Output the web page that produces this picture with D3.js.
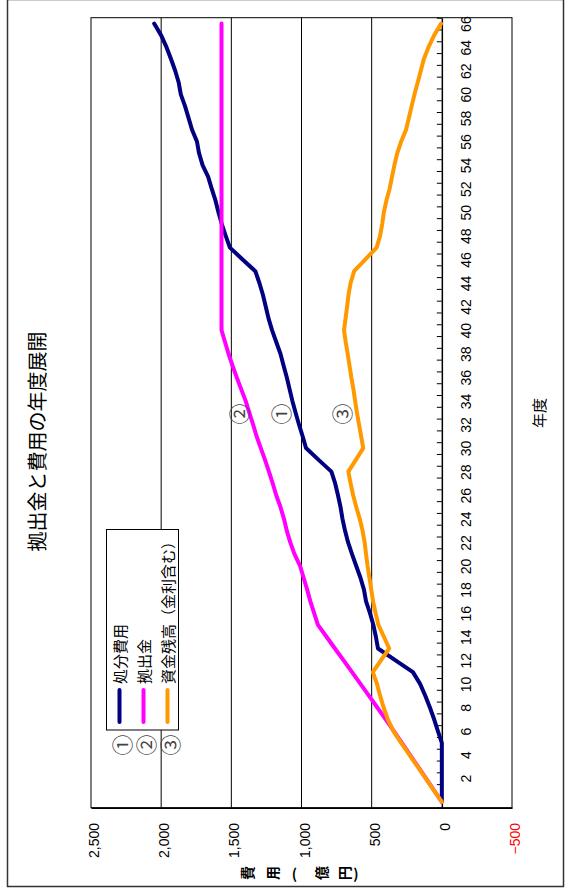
<!DOCTYPE html>
<html>
<head>
<meta charset="utf-8">
<script src="https://cdn.jsdelivr.net/npm/d3@7"></script>
<style>
  html, body { margin: 0; padding: 0; background: #fff; }
  svg { display: block; }
  .num { font-family: "Liberation Sans", Arial, sans-serif; }
  .jp { font-family: "Noto Sans CJK JP", "Noto Sans", sans-serif; }
</style>
</head>
<body>
<svg id="chart" width="567" height="890"></svg>
<script>
// Fiscal years 0..66
const years = d3.range(0, 67);

// 処分費用 (億円)
const disposalCost = [
  0, 0, 0, 0, 0, 0, 28, 55, 85, 118,
  155, 206, 330, 455, 470, 488, 512, 540, 555, 580,
  610, 640, 668, 690, 708, 722, 740, 760, 787, 878,
  968, 992, 1018, 1042, 1065, 1085, 1105, 1128, 1150, 1180,
  1210, 1235, 1255, 1275, 1300, 1329, 1420, 1510, 1540, 1568,
  1592, 1613, 1640, 1665, 1705, 1730, 1745, 1780, 1805, 1830,
  1860, 1875, 1900, 1930, 1962, 2000, 2050
];

// 拠出金 (億円)
const contributions = [
  0, 57, 114, 171, 228, 285, 342, 400, 460, 520,
  580, 640, 700, 762, 822, 883, 910, 937, 960, 985,
  1010, 1050, 1080, 1105, 1125, 1150, 1180, 1205, 1232, 1260,
  1290, 1320, 1345, 1372, 1398, 1430, 1462, 1492, 1520, 1545,
  1570, 1570, 1570, 1570, 1570, 1570, 1570, 1570, 1570, 1570,
  1570, 1570, 1570, 1570, 1570, 1570, 1570, 1570, 1570, 1570,
  1570, 1570, 1570, 1570, 1570, 1570, 1570
];

// 資金残高（金利含む） (億円)
const fundBalance = [
  0, 58, 116, 174, 232, 290, 345, 385, 415, 440,
  462, 492, 434, 375, 413, 452, 472, 490, 503, 516,
  529, 540, 550, 565, 585, 610, 632, 650, 666, 613,
  560, 575, 590, 605, 618, 630, 645, 658, 671, 685,
  697, 686, 675, 665, 650, 625, 545, 465, 440, 425,
  413, 395, 372, 355, 338, 318, 290, 255, 235, 215,
  195, 172, 150, 128, 95, 55, 5
];

const seriesNames  = ["処分費用", "拠出金", "資金残高（金利含む）"];
const seriesColors = ["#000080", "#ff00ff", "#ff9900"];
const seriesMarks  = ["①", "②", "③"];
const seriesData   = [disposalCost, contributions, fundBalance];

// In-plot series markers: [value, year]
const markAnchors = [[1154, 32.9], [1455, 32.9], [722, 32.9]];

const valueTicks = [-500, 0, 500, 1000, 1500, 2000, 2500];
const gridValues = [500, 1000, 1500, 2000];
const yearTicks  = d3.range(2, 67, 2);

const chartTitle = "拠出金と費用の年度展開";
const yearTitle  = "年度";
const valueTitle = ["費", "用", "（", "億", "円", "）"];

const svg = d3.select("#chart");

// The chart is laid out sideways: values run right-to-left, years run bottom-to-top.
const plot = { left: 91, right: 512, top: 17.7, bottom: 807.7 };
const x = d3.scaleLinear().domain([-500, 2500]).range([plot.right, plot.left]);
const y = d3.scaleLinear().domain([-0.5, 66.5]).range([plot.bottom, plot.top]);

// outer frame
svg.append("rect")
  .attr("x", 7.5).attr("y", -0.5).attr("width", 556).attr("height", 887)
  .attr("fill", "#fff").attr("stroke", "#333").attr("stroke-width", 1.5);

// gridlines
svg.append("g").selectAll("line").data(gridValues).join("line")
  .attr("x1", d => x(d)).attr("x2", d => x(d))
  .attr("y1", plot.top).attr("y2", plot.bottom)
  .attr("stroke", "#000").attr("stroke-width", 1);

// plot frame
svg.append("rect")
  .attr("x", plot.left).attr("y", plot.top)
  .attr("width", plot.right - plot.left).attr("height", plot.bottom - plot.top)
  .attr("fill", "none").attr("stroke", "#000").attr("stroke-width", 1);

// value axis (along the bottom edge)
const valueAxis = svg.append("g")
  .attr("transform", `translate(0,${plot.bottom})`)
  .call(d3.axisBottom(x).tickValues(valueTicks).tickSize(0).tickSizeOuter(0)
    .tickFormat(d => d < 0 ? "−" + d3.format(",")(-d) : d3.format(",")(d)));
valueAxis.select(".domain").attr("stroke", "#000").attr("stroke-width", 1.5);
valueAxis.selectAll("text")
  .attr("class", "num")
  .attr("x", 0).attr("y", 0).attr("dy", 0)
  .attr("text-anchor", "end")
  .attr("transform", "translate(7.5,15.3) rotate(-90)")
  .attr("font-size", 14)
  .attr("fill", d => d < 0 ? "#ff0000" : "#000");

// year axis at value 0: tick marks on category boundaries
const yearAxis = svg.append("g")
  .attr("transform", `translate(${x(0)},0)`)
  .call(d3.axisRight(y).tickValues(d3.range(-0.5, 67, 1)).tickSize(-5).tickSizeOuter(0).tickFormat(""));
yearAxis.select(".domain").attr("stroke", "#000").attr("stroke-width", 1.5);
yearAxis.selectAll(".tick line").attr("stroke", "#000").attr("stroke-width", 1);

// year labels
const yearLabels = svg.append("g")
  .attr("transform", `translate(${x(0)},0)`)
  .call(d3.axisRight(y).tickValues(yearTicks).tickSize(0));
yearLabels.select(".domain").remove();
yearLabels.selectAll("text")
  .attr("class", "num")
  .attr("x", 0).attr("y", 0).attr("dy", 0)
  .attr("text-anchor", "middle")
  .attr("transform", "translate(29.5,0) rotate(-90)")
  .attr("font-size", 14)
  .attr("fill", "#000");

// series lines
const line = d3.line()
  .x(d => x(d[1]))
  .y(d => y(d[0]));

svg.append("g").selectAll("path")
  .data(seriesData)
  .join("path")
  .attr("d", d => line(years.map((yr, i) => [yr, d[i]])))
  .attr("fill", "none")
  .attr("stroke", (d, i) => seriesColors[i])
  .attr("stroke-width", 4)
  .attr("stroke-linejoin", "round")
  .attr("stroke-linecap", "round");

// in-plot markers
svg.append("g").selectAll("text")
  .data(markAnchors)
  .join("text")
  .attr("class", "jp")
  .attr("transform", d => `translate(${x(d[0])},${y(d[1])}) rotate(-90)`)
  .attr("text-anchor", "middle")
  .attr("dominant-baseline", "central")
  .attr("font-size", 21)
  .attr("fill", "#444")
  .text((d, i) => seriesMarks[i]);

// legend
const legend = svg.append("g");
legend.append("rect")
  .attr("x", 106.5).attr("y", 529.5).attr("width", 72).attr("height", 200.5)
  .attr("fill", "#fff").attr("stroke", "#000").attr("stroke-width", 1);

const entry = legend.selectAll("g.entry")
  .data(seriesNames)
  .join("g")
  .attr("class", "entry")
  .attr("transform", (d, i) => `translate(${119.5 + 24 * i},0)`);

entry.append("line")
  .attr("x1", 0).attr("x2", 0).attr("y1", 690).attr("y2", 722)
  .attr("stroke", (d, i) => seriesColors[i])
  .attr("stroke-width", 4)
  .attr("stroke-linecap", "round");

entry.append("text")
  .attr("class", "jp")
  .attr("transform", "translate(6,684) rotate(-90)")
  .attr("text-anchor", "start")
  .attr("font-size", 15)
  .attr("fill", "#000")
  .text(d => d);

entry.append("text")
  .attr("class", "jp")
  .attr("transform", "translate(1,745) rotate(-90)")
  .attr("text-anchor", "middle")
  .attr("dominant-baseline", "central")
  .attr("font-size", 21)
  .attr("fill", "#444")
  .text((d, i) => seriesMarks[i]);

// chart title
svg.append("text")
  .attr("class", "jp")
  .attr("transform", "translate(44.5,441.5) rotate(-90)")
  .attr("text-anchor", "middle")
  .attr("font-size", 20)
  .attr("fill", "#000")
  .text(chartTitle);

// year axis title
svg.append("text")
  .attr("class", "jp")
  .attr("transform", "translate(545,413) rotate(-90)")
  .attr("text-anchor", "middle")
  .attr("font-size", 15)
  .attr("fill", "#000")
  .text(yearTitle);

// value axis title, stacked character by character
const titleX = [246.5, 271.5, 294.5, 320.5, 343.5, 356];
svg.append("g").selectAll("text")
  .data(valueTitle)
  .join("text")
  .attr("class", "jp")
  .attr("transform", (d, i) => (d === "（" || d === "）")
    ? `translate(${titleX[i]},873)`
    : `translate(${titleX[i]},873) rotate(-90)`)
  .attr("text-anchor", "middle")
  .attr("dominant-baseline", "central")
  .attr("font-size", 14)
  .attr("font-weight", "bold")
  .attr("fill", "#000")
  .text(d => (d === "（") ? "(" : (d === "）") ? ")" : d);
</script>
</body>
</html>
